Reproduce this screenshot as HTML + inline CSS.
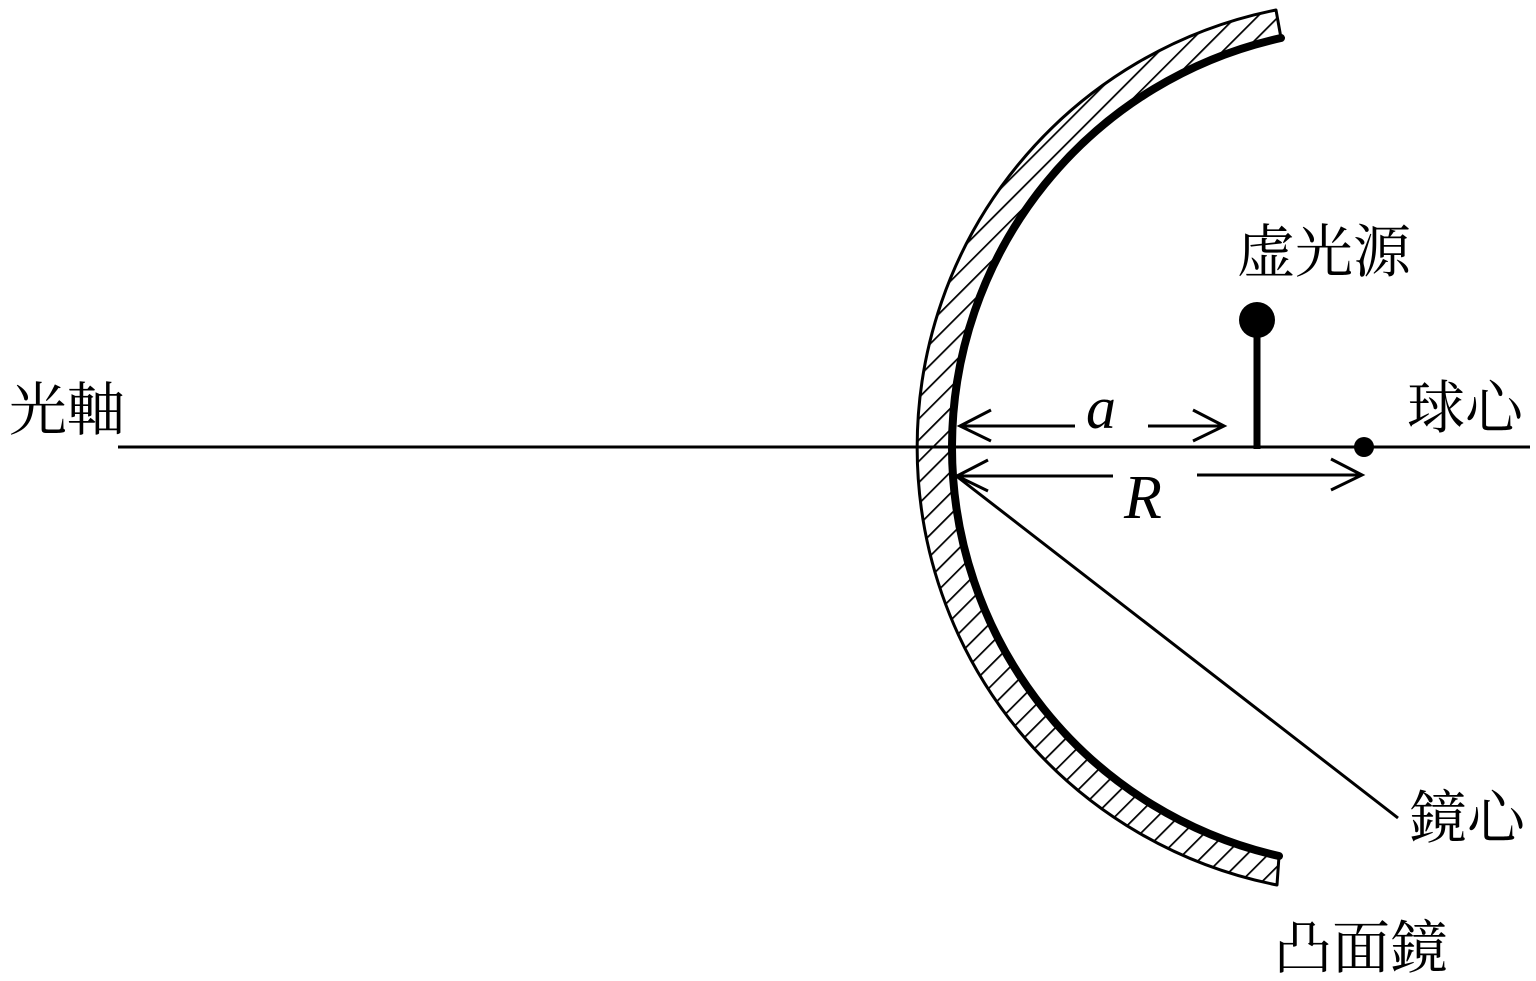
<!DOCTYPE html>
<html><head><meta charset="utf-8"><style>
html,body{margin:0;padding:0;background:#fff;}
svg{display:block;}
.j{font-family:"Liberation Serif","Noto Serif CJK SC","Noto Sans CJK JP",serif;font-size:58px;fill:#000;}
.m{font-family:"Liberation Serif",serif;font-style:italic;fill:#000;}
</style></head><body>
<svg width="1536" height="981" viewBox="0 0 1536 981" xmlns="http://www.w3.org/2000/svg">
<defs>
<pattern id="h" patternUnits="userSpaceOnUse" width="15" height="15" patternTransform="rotate(45)">
<line x1="0" y1="0" x2="0" y2="15" stroke="#000" stroke-width="3.5"/>
</pattern>
<clipPath id="c"><path d="M1276,10 A446,446 0 0 0 1277,885 L1279,856 A419,419 0 0 1 1281,38 Z"/></clipPath>
</defs>
<rect x="900" y="0" width="400" height="900" fill="url(#h)" clip-path="url(#c)"/>
<path d="M1276,10 A446,446 0 0 0 1277,885 L1279,856 A419,419 0 0 1 1281,38 Z" fill="none" stroke="#000" stroke-width="3" stroke-linejoin="round"/>
<path d="M1281,38 A419,419 0 0 0 1279,856" fill="none" stroke="#000" stroke-width="8" stroke-linecap="round"/>
<line x1="118" y1="447" x2="1530" y2="447" stroke="#000" stroke-width="3"/>
<g stroke="#000" stroke-width="3" fill="none">
<line x1="960" y1="426" x2="1075" y2="426"/>
<line x1="1148" y1="426" x2="1224" y2="426"/>
<polyline points="991,410 960,426 991,441"/>
<polyline points="1193,410 1224,426 1193,441"/>
<line x1="957" y1="476" x2="1113" y2="476"/>
<line x1="1197" y1="475" x2="1362" y2="475"/>
<polyline points="988,460 957,476 988,491"/>
<polyline points="1331,459 1362,475 1331,490"/>
<line x1="955" y1="475" x2="1398" y2="818"/>
</g>
<line x1="1257" y1="320" x2="1257" y2="449" stroke="#000" stroke-width="7"/>
<circle cx="1257" cy="320" r="18" fill="#000"/>
<circle cx="1364" cy="447" r="10" fill="#000"/>
<text class="m" x="1086" y="428" font-size="60">a</text>
<text class="m" x="1124" y="518" font-size="62">R</text>
<text class="j" x="9" y="430">光軸</text>
<text class="j" x="1237" y="272">虚光源</text>
<text class="j" x="1407" y="428">球心</text>
<text class="j" x="1409" y="838">鏡心</text>
<text class="j" x="1274" y="968">凸面鏡</text>
</svg>
</body></html>
